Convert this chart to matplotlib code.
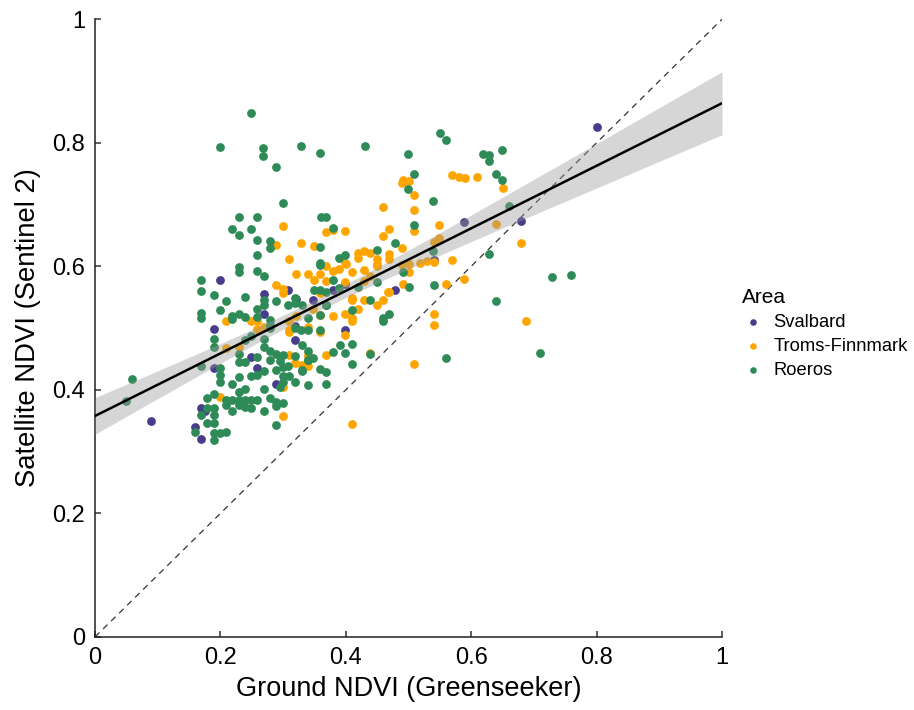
import numpy as np
import matplotlib
matplotlib.use("Agg")
import matplotlib.pyplot as plt

plt.rcParams['font.family'] = ['Liberation Sans', 'DejaVu Sans']

# ground NDVI (x) and satellite NDVI (y)
svalbard_x = [0.09, 0.159, 0.169, 0.169, 0.176, 0.189, 0.189, 0.199, 0.249, 0.259,
              0.269, 0.269, 0.289, 0.308, 0.319, 0.319, 0.320, 0.348, 0.379, 0.399,
              0.399, 0.479, 0.540, 0.589, 0.679, 0.80]
svalbard_y = [0.35, 0.339, 0.321, 0.370, 0.366, 0.436, 0.498, 0.577, 0.453, 0.436,
              0.555, 0.522, 0.409, 0.562, 0.503, 0.480, 0.547, 0.546, 0.562, 0.571,
              0.497, 0.562, 0.61, 0.672, 0.674, 0.826]

troms_x = [0.299, 0.289, 0.309, 0.289, 0.299, 0.299, 0.249, 0.259, 0.259, 0.269,
           0.209, 0.309, 0.309, 0.209, 0.229, 0.309, 0.199, 0.299, 0.299, 0.329,
           0.349, 0.460, 0.369, 0.379, 0.399, 0.460, 0.469, 0.489, 0.419, 0.429,
           0.439, 0.469, 0.419, 0.449, 0.469, 0.399, 0.369, 0.449, 0.489, 0.379,
           0.389, 0.409, 0.429, 0.439, 0.320, 0.340, 0.349, 0.359, 0.369, 0.399,
           0.429, 0.468, 0.359, 0.409, 0.429, 0.459, 0.449, 0.348, 0.419, 0.379,
           0.399, 0.409, 0.320, 0.310, 0.359, 0.399, 0.369, 0.439, 0.340, 0.319,
           0.330, 0.409, 0.339, 0.359, 0.449, 0.409, 0.339, 0.339, 0.491, 0.500,
           0.490, 0.569, 0.580, 0.590, 0.609, 0.650, 0.509, 0.509, 0.509, 0.549,
           0.640, 0.679, 0.540, 0.549, 0.500, 0.500, 0.519, 0.529, 0.540, 0.569,
           0.491, 0.559, 0.589, 0.540, 0.540, 0.688, 0.509, 0.469, 0.400, 0.409]
troms_y = [0.665, 0.634, 0.612, 0.570, 0.563, 0.556, 0.511, 0.512, 0.499, 0.502,
           0.511, 0.511, 0.497, 0.468, 0.469, 0.456, 0.389, 0.404, 0.358, 0.637,
           0.632, 0.696, 0.656, 0.658, 0.657, 0.649, 0.660, 0.629, 0.622, 0.624,
           0.621, 0.620, 0.614, 0.611, 0.612, 0.605, 0.600, 0.600, 0.602, 0.592,
           0.595, 0.591, 0.594, 0.585, 0.587, 0.587, 0.578, 0.587, 0.576, 0.574,
           0.576, 0.559, 0.557, 0.545, 0.545, 0.545, 0.537, 0.531, 0.531, 0.519,
           0.522, 0.517, 0.519, 0.493, 0.494, 0.489, 0.457, 0.459, 0.456, 0.444,
           0.440, 0.345, 0.502, 0.521, 0.604, 0.548, 0.454, 0.438, 0.739, 0.738,
           0.735, 0.748, 0.744, 0.743, 0.745, 0.727, 0.715, 0.691, 0.657, 0.667,
           0.668, 0.638, 0.640, 0.646, 0.604, 0.591, 0.606, 0.609, 0.607, 0.610,
           0.571, 0.572, 0.579, 0.523, 0.505, 0.511, 0.442, 0.558, 0.604, 0.512]

roeros_x = [0.049, 0.059, 0.249, 0.199, 0.268, 0.268, 0.329, 0.289, 0.359, 0.430,
            0.499, 0.550, 0.559, 0.619, 0.629, 0.629, 0.649, 0.640, 0.649, 0.509,
            0.499, 0.539, 0.660, 0.299, 0.509, 0.479, 0.449, 0.539, 0.629, 0.640,
            0.500, 0.540, 0.491, 0.460, 0.559, 0.709, 0.729, 0.759,
            0.229, 0.259, 0.218, 0.249, 0.229, 0.259, 0.279, 0.279, 0.259, 0.229,
            0.229, 0.259, 0.270, 0.169, 0.169, 0.189, 0.239, 0.269, 0.269, 0.209,
            0.289, 0.308, 0.169, 0.169, 0.199, 0.219, 0.229, 0.239, 0.219, 0.259,
            0.259, 0.279, 0.319, 0.319, 0.329, 0.339, 0.279, 0.279,
            0.189, 0.189, 0.239, 0.249, 0.269, 0.270, 0.259, 0.229, 0.229, 0.239,
            0.279, 0.289, 0.279, 0.295, 0.289, 0.299, 0.169, 0.199, 0.199, 0.199,
            0.229, 0.219, 0.249, 0.259, 0.269, 0.295, 0.270, 0.239, 0.229, 0.189,
            0.179, 0.209, 0.219, 0.229, 0.239, 0.249, 0.259, 0.229, 0.209, 0.239,
            0.249, 0.279, 0.289, 0.289, 0.299, 0.179, 0.189, 0.169, 0.189, 0.219,
            0.270, 0.179, 0.189, 0.159, 0.189, 0.199, 0.209, 0.289, 0.189,
            0.319, 0.330, 0.340, 0.359, 0.330, 0.390, 0.409, 0.380, 0.399, 0.299,
            0.319, 0.348, 0.340, 0.308, 0.330, 0.359, 0.369, 0.299, 0.310, 0.299,
            0.319, 0.340, 0.369, 0.339, 0.369,
            0.360, 0.369, 0.379, 0.359, 0.399, 0.389, 0.359, 0.379, 0.419, 0.449,
            0.349, 0.359, 0.389, 0.439, 0.330, 0.409, 0.359, 0.459, 0.469, 0.340,
            0.369, 0.369, 0.439, 0.409, 0.359]
roeros_y = [0.382, 0.417, 0.848, 0.793, 0.792, 0.779, 0.795, 0.760, 0.784, 0.794,
            0.782, 0.816, 0.804, 0.781, 0.780, 0.771, 0.789, 0.749, 0.740, 0.749,
            0.725, 0.705, 0.698, 0.703, 0.666, 0.638, 0.626, 0.624, 0.620, 0.544,
            0.566, 0.569, 0.591, 0.511, 0.451, 0.460, 0.583, 0.586,
            0.680, 0.679, 0.660, 0.661, 0.650, 0.643, 0.641, 0.630, 0.619, 0.598,
            0.591, 0.593, 0.584, 0.577, 0.560, 0.554, 0.550, 0.545, 0.537, 0.543,
            0.543, 0.538, 0.525, 0.517, 0.529, 0.520, 0.523, 0.518, 0.515, 0.530,
            0.518, 0.513, 0.548, 0.500, 0.496, 0.497, 0.500, 0.505,
            0.482, 0.469, 0.481, 0.487, 0.483, 0.469, 0.453, 0.458, 0.445, 0.445,
            0.462, 0.458, 0.449, 0.447, 0.432, 0.437, 0.438, 0.435, 0.424, 0.412,
            0.420, 0.409, 0.423, 0.424, 0.431, 0.405, 0.401, 0.401, 0.397, 0.393,
            0.386, 0.383, 0.383, 0.383, 0.383, 0.383, 0.383, 0.375, 0.375, 0.372,
            0.370, 0.386, 0.381, 0.373, 0.379, 0.370, 0.370, 0.359, 0.359, 0.366,
            0.365, 0.346, 0.347, 0.331, 0.330, 0.330, 0.331, 0.343, 0.318,
            0.540, 0.473, 0.462, 0.497, 0.430, 0.473, 0.474, 0.461, 0.459, 0.456,
            0.455, 0.451, 0.448, 0.438, 0.432, 0.433, 0.428, 0.422, 0.422, 0.412,
            0.412, 0.408, 0.409, 0.448, 0.537,
            0.679, 0.679, 0.662, 0.631, 0.618, 0.613, 0.602, 0.578, 0.567, 0.575,
            0.562, 0.562, 0.565, 0.545, 0.537, 0.529, 0.521, 0.516, 0.522, 0.517,
            0.558, 0.537, 0.458, 0.442, 0.606]

areas = ['Svalbard', 'Troms-Finnmark', 'Roeros']
colors = ['#483D8B', '#FFA500', '#2E8B57']

fig = plt.figure(figsize=(9.14, 7.10), dpi=100)
ax = fig.add_axes([0.104, 0.103, 0.686, 0.870])

series = [(svalbard_x, svalbard_y), (troms_x, troms_y), (roeros_x, roeros_y)]
for (xs, ys), name, col in zip(series, areas, colors):
    ax.scatter(xs, ys, s=40, color=col, linewidths=0, label=name, zorder=2)

# linear fit over all points with 95% confidence band
all_x = np.concatenate([np.array(s[0]) for s in series])
all_y = np.concatenate([np.array(s[1]) for s in series])
n = len(all_x)
slope, intercept = np.polyfit(all_x, all_y, 1)
resid = all_y - (intercept + slope * all_x)
sd = np.sqrt(np.sum(resid ** 2) / (n - 2))
xm = all_x.mean()
sxx = np.sum((all_x - xm) ** 2)
xg = np.linspace(0, 1, 200)
fit = intercept + slope * xg
se = sd * np.sqrt(1.0 / n + (xg - xm) ** 2 / sxx)
ax.fill_between(xg, fit - 1.97 * se, fit + 1.97 * se, color='#999999', alpha=0.4,
                linewidth=0, zorder=3)
ax.plot(xg, fit, color='black', linewidth=1.8, zorder=4)

# 1:1 line
ax.plot([0, 1], [0, 1], color='#333333', linestyle=(0, (5, 4)), linewidth=0.9, zorder=1)

ax.set_xlim(0, 1)
ax.set_ylim(0, 1)
ticks = [0, 0.2, 0.4, 0.6, 0.8, 1]
ax.set_xticks(ticks)
ax.set_yticks(ticks)
ax.set_xticklabels(['0', '0.2', '0.4', '0.6', '0.8', '1'])
ax.set_yticklabels(['0', '0.2', '0.4', '0.6', '0.8', '1'])
ax.tick_params(labelsize=17, direction='in', length=4, width=1.1, color='#333333', pad=7)
for side in ['top', 'right']:
    ax.spines[side].set_visible(False)
for side in ['left', 'bottom']:
    ax.spines[side].set_linewidth(1.1)
    ax.spines[side].set_color('#222222')
ax.set_xlabel('Ground NDVI (Greenseeker)', fontsize=19.5, labelpad=5)
ax.set_ylabel('Satellite NDVI (Sentinel 2)', fontsize=19.8, labelpad=8)

leg = ax.legend(title='Area', loc='upper left', bbox_to_anchor=(0.794, 0.618),
                bbox_transform=fig.transFigure, frameon=False, fontsize=13.2,
                title_fontsize=15, markerscale=0.75, handlelength=1.2,
                handletextpad=0.5, labelspacing=0.38, alignment='left')

fig.savefig('out.png', dpi=100)
